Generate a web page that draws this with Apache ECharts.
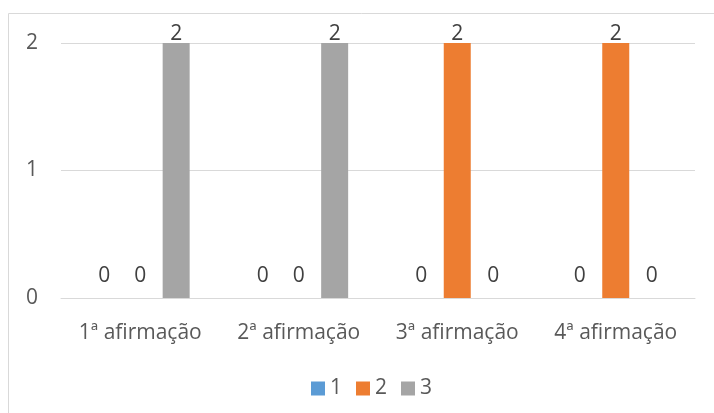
<!DOCTYPE html>
<html>
<head>
<meta charset="utf-8">
<script src="https://cdn.jsdelivr.net/npm/echarts@6/dist/echarts.min.js"></script>
<style>
  html, body { margin: 0; padding: 0; background: #fff; }
  #chart { width: 714px; height: 413px; }
</style>
</head>
<body>
<div id="chart"></div>
<script>
const categories = ['1ª afirmação', '2ª afirmação', '3ª afirmação', '4ª afirmação'];
const seriesNames = ['1', '2', '3'];
const values1 = [0, 0, 0, 0];
const values2 = [0, 0, 2, 2];
const values3 = [2, 2, 0, 0];
const colors = ['#5B9BD5', '#ED7D31', '#A5A5A5'];
const yTicks = [0, 1, 2];

const font = 'Open Sans';
const textColor = '#595959';

// zero values: Excel puts their labels a bit higher than the baseline
function toData(arr) {
  return arr.map(function (v) {
    return v === 0 ? { value: v, label: { distance: 11 } } : v;
  });
}

const chart = echarts.init(document.getElementById('chart'));
chart.setOption({
  animation: false,
  graphic: [{
    type: 'rect',
    shape: { x: 8.5, y: 13.5, width: 720, height: 420 },
    style: { fill: 'none', stroke: '#D9D9D9', lineWidth: 1 },
    silent: true
  }],
  legend: {
    top: 373,
    left: 306,
    itemWidth: 14,
    itemHeight: 14,
    itemGap: 14,
    icon: 'rect',
    textStyle: { fontFamily: font, fontSize: 21, color: textColor },
    data: seriesNames
  },
  grid: { left: 61, right: 19, top: 43, bottom: 115 },
  xAxis: {
    type: 'category',
    data: categories,
    axisLine: { lineStyle: { color: '#D9D9D9', width: 1 } },
    axisTick: { show: false },
    axisLabel: { fontFamily: font, fontSize: 21, color: textColor, margin: 25, interval: 0 }
  },
  yAxis: {
    type: 'value',
    min: yTicks[0],
    max: yTicks[yTicks.length - 1],
    interval: 1,
    axisLine: { show: false },
    axisTick: { show: false },
    splitLine: { lineStyle: { color: '#D9D9D9', width: 1 } },
    axisLabel: { fontFamily: font, fontSize: 21, color: textColor, margin: 23 }
  },
  series: [values1, values2, values3].map(function (vals, i) {
    return {
      name: seriesNames[i],
      type: 'bar',
      data: toData(vals),
      barWidth: 27,
      barGap: '33%',
      itemStyle: { color: colors[i] },
      label: {
        show: true,
        position: 'top',
        distance: -2,
        fontFamily: font,
        fontSize: 21,
        color: '#404040'
      }
    };
  })
});
</script>
</body>
</html>
